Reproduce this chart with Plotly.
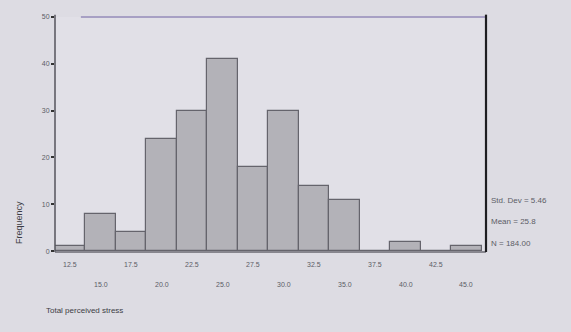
import plotly.graph_objects as go

# Histogram of total perceived stress scores (bin width 2.5)
bin_centers = [12.5, 15.0, 17.5, 20.0, 22.5, 25.0, 27.5, 30.0, 32.5, 35.0, 37.5, 40.0, 42.5, 45.0]
counts = [1, 8, 4, 24, 30, 41, 18, 30, 14, 11, 0, 2, 0, 1]
bin_width = 2.5
y_ticks = [0, 10, 20, 30, 40, 50]
x_title = "Total perceived stress"
y_title = "Frequency"

n = sum(counts)
mean = sum(c * x for c, x in zip(counts, bin_centers)) / n
var = sum(c * (x - mean) ** 2 for c, x in zip(counts, bin_centers)) / (n - 1)
std = var ** 0.5

BG = "#dddce3"
TXT = "#5c5c66"
FONT = "Liberation Sans"

fig = go.Figure()
fig.add_trace(go.Bar(
    x=bin_centers, y=counts, width=bin_width,
    marker=dict(color="#b3b2b8", line=dict(color="#65646c", width=1.2)),
    hoverinfo="x+y",
))

x_range = [11.25, 46.6]
y_range = [-0.2, 50]

fig.update_layout(
    width=571, height=332,
    margin=dict(l=55, r=85, t=17, b=80),
    paper_bgcolor=BG, plot_bgcolor="#e1e0e7",
    showlegend=False, bargap=0,
    font=dict(family=FONT, size=8, color=TXT),
    xaxis=dict(range=x_range, showticklabels=False, showgrid=False, zeroline=False,
               ticks="", showline=False),
    yaxis=dict(range=y_range, tickvals=y_ticks, ticktext=[str(v) for v in y_ticks],
               ticks="outside", ticklen=3, tickcolor="#333", tickwidth=2,
               showgrid=False, zeroline=False, showline=False,
               tickfont=dict(size=7, color=TXT)),
)

# frame lines
fig.add_shape(type="line", xref="paper", yref="paper", x0=0, x1=0, y0=0, y1=1.01,
              line=dict(color="#55545c", width=1.5))
fig.add_shape(type="line", xref="paper", yref="paper", x0=0, x1=1, y0=0, y1=0,
              line=dict(color="#6a6a72", width=1.5))
fig.add_shape(type="line", xref="paper", yref="paper", x0=0.06, x1=1, y0=1, y1=1,
              line=dict(color="#a7a0c4", width=2))
fig.add_shape(type="line", xref="paper", yref="paper", x0=1, x1=1, y0=0, y1=1.01,
              line=dict(color="#1e1e22", width=2.2))

# staggered bin-centre labels
for i, c in enumerate(bin_centers):
    fig.add_annotation(x=c, xref="x", yref="paper", y=-0.03 if i % 2 == 0 else -0.115,
                       text=f"{c:.1f}", showarrow=False, yanchor="top",
                       font=dict(size=7, color=TXT))

# axis titles
fig.add_annotation(xref="paper", yref="paper", x=-0.025, y=-0.247, xanchor="left",
                   yanchor="middle", text=x_title, showarrow=False,
                   font=dict(size=8, color="#3c3c44"))
fig.add_annotation(xref="paper", yref="paper", x=-0.085, xanchor="center",
                   y=0.125, yanchor="middle", text=y_title,
                   textangle=-90, showarrow=False, font=dict(size=9, color="#3c3c44"))

# summary statistics beside the frame
stats = [f"Std. Dev = {std:.2f}", f"Mean = {mean:.1f}", f"N = {n:.2f}"]
for k, s in enumerate(stats):
    fig.add_annotation(xref="paper", yref="paper", x=1.008, y=0.221 - k * 0.092,
                       xanchor="left", yanchor="middle", text=s, showarrow=False,
                       font=dict(size=8, color=TXT))

fig.write_html("out.html")
